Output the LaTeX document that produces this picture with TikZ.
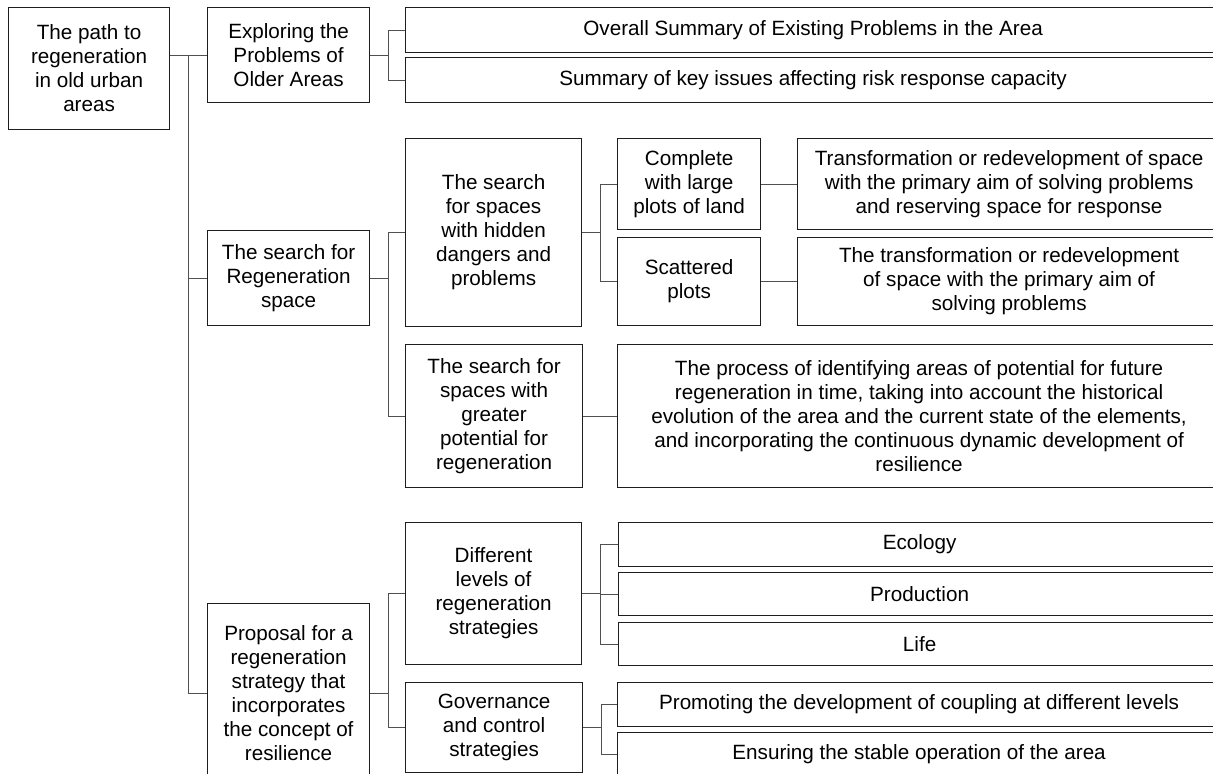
\documentclass[tikz,border=0pt]{standalone}
\usepackage{fontspec}
\setmainfont{Liberation Sans}
\usetikzlibrary{positioning,calc}
\definecolor{edge}{HTML}{1E1E1E}
\definecolor{wire}{HTML}{505050}
\newcommand{\pxu}{0.75pt}
\begin{document}
\begin{tikzpicture}[x=0.75pt,y=-0.75pt,
  font=\fontsize{15.5}{18}\selectfont,
  box/.style={draw=edge,line width=0.9pt,align=center,inner sep=0pt,anchor=north west},
  boxsize/.style 2 args={minimum width=#1*\pxu,minimum height=#2*\pxu},
  wire/.style={draw=wire,line width=0.8pt}]
\path[use as bounding box,fill=white] (0,0) rectangle (1213,774);
\clip (0,0) rectangle (1213,774);

% level 1
\node[box,boxsize={161}{122}] (root) at (8,7){The path to\\regeneration\\in old urban\\areas};
\node[box,boxsize={162}{95}] (expl) at (207,7){Exploring the\\Problems of\\Older Areas};
\node[box,boxsize={162}{95}] (regen) at (207,230){The search for\\Regeneration\\space};
\node[box,boxsize={162}{179}] (prop) at (207,603){Proposal for a\\regeneration\\strategy that\\incorporates\\the concept of\\resilience};

% problems of older areas
\node[box,boxsize={815}{45}] (sumA) at (405,7){Overall Summary of Existing Problems in the Area};
\node[box,boxsize={815}{45}] (sumB) at (405,57){Summary of key issues affecting risk response capacity};

% regeneration space
\node[box,boxsize={176}{188}] (hidden) at (405,138){The search\\for spaces\\with hidden\\dangers and\\problems};
\node[box,boxsize={177}{143}] (potent) at (405,344){The search for\\spaces with\\greater\\potential for\\regeneration};
\node[box,boxsize={143}{91}] (large) at (617,138){Complete\\with large\\plots of land};
\node[box,boxsize={143}{88}] (scatter) at (617,237){Scattered\\plots};
\node[box,boxsize={423}{91}] (largeT) at (797,138){Transformation or redevelopment of space\\with the primary aim of solving problems\\and reserving space for response};
\node[box,boxsize={423}{88}] (scatterT) at (797,237){The transformation or redevelopment\\of space with the primary aim of\\solving problems};
\node[box,boxsize={603}{143}] (process) at (617,344){The process of identifying areas of potential for future\\regeneration in time, taking into account the historical\\evolution of the area and the current state of the elements,\\and incorporating the continuous dynamic development of\\resilience};

% strategy
\node[box,boxsize={176}{142}] (levels) at (405,522){Different\\levels of\\regeneration\\strategies};
\node[box,boxsize={177}{90}] (govern) at (405,682){Governance\\and control\\strategies};
\node[box,boxsize={602}{44}] (eco) at (618,522){Ecology};
\node[box,boxsize={602}{43}] (prod) at (618,572){Production};
\node[box,boxsize={602}{43}] (life) at (618,622){Life};
\node[box,boxsize={603}{44}] (couple) at (617,682){Promoting the development of coupling at different levels};
\node[box,boxsize={603}{44}] (stable) at (617,732){Ensuring the stable operation of the area};

% trunk
\draw[wire] (root.east |- expl.west) -- (expl.west);
\coordinate (trunk) at ($(root.east |- expl.west)!0.5!(expl.west)$);
\draw[wire] (trunk) |- (regen.west);
\draw[wire] (trunk) |- (prop.west);

% brackets
\foreach \c in {sumA,sumB} \draw[wire] (expl.east) -- +(18,0) |- (\c.west);
\foreach \c in {hidden,potent} \draw[wire] (regen.east) -- +(18,0) |- (\c.west);
\foreach \c in {large,scatter} \draw[wire] (hidden.east) -- +(18,0) |- (\c.west);
\foreach \c in {levels,govern} \draw[wire] (prop.east) -- +(18,0) |- (\c.west);
\foreach \c in {eco,prod,life} \draw[wire] (levels.east) -- +(18,0) |- (\c.west);
\foreach \c in {couple,stable} \draw[wire] (govern.east) -- +(18,0) |- (\c.west);
\draw[wire] (large.east) -- (largeT.west);
\draw[wire] (scatter.east) -- (scatterT.west);
\draw[wire] (potent.east) -- (process.west);
\end{tikzpicture}
\end{document}
